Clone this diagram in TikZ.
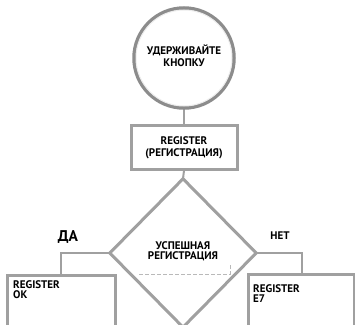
\documentclass[tikz,border=0pt]{standalone}
\usepackage{fontspec}
\setmainfont{PT Sans}
\usetikzlibrary{shapes.geometric}
\definecolor{lineg}{HTML}{A0A0A0}
\definecolor{ringg}{HTML}{8C8C8C}
\tikzset{
  boxst/.style={draw=lineg, line width=3pt, fill=white, rectangle, inner sep=0pt},
  conn/.style={draw=lineg, line width=2pt},
  txt/.style={font=\bfseries\fontsize{11}{10.5}\selectfont, align=center, inner sep=0pt, text=black},
  txtl/.style={font=\bfseries\fontsize{11}{10.5}\selectfont, align=left, inner sep=0pt, anchor=north west, text=black},
}
\begin{document}
\begin{tikzpicture}[x=1pt,y=-1pt]
\useasboundingbox (0,0) rectangle (355,324);
\clip (0,0) rectangle (355,324);
\fill[white] (0,0) rectangle (355,324);
\node[circle, minimum size=100pt, inner sep=0pt] (start) at (184,58) {};
\node[boxst, minimum width=106pt, minimum height=44pt] (reg) at (184,147) {};
\node[diamond, minimum width=146pt, minimum height=148pt, inner sep=0pt] (dec) at (183,253) {};
\node[boxst, minimum width=108pt, minimum height=68pt, anchor=north] (ok) at (61,274) {};
\node[boxst, minimum width=106pt, minimum height=68pt, anchor=north] (e7) at (301.5,273) {};
\draw[conn] (start.south) -- (reg.north);
\draw[conn] (reg.south) -- (dec.north);
\draw[conn] (dec.west) -| (ok.north);
\draw[conn] (dec.east) -| (e7.north);
\draw[draw=ringg, line width=3.5pt, fill=white] (start.center) circle (50pt);
\draw[draw=white!85!gray, line width=1pt] (start.center) circle (48pt);
\node[boxst, minimum width=106pt, minimum height=44pt] at (reg.center) {};
\draw[draw=lineg, line width=3pt, fill=white, line join=miter] (dec.north) -- (dec.east) -- (dec.south) -- (dec.west) -- cycle;
\node[boxst, minimum width=108pt, minimum height=68pt] at (ok.center) {};
\node[boxst, minimum width=106pt, minimum height=68pt] at (e7.center) {};
\draw[gray!55, line width=0.8pt, dash pattern=on 4pt off 2pt] (139,274) -- (230,274) -- (230,264);
\node[txt] (t1) at (184,56) {УДЕРЖИВАЙТЕ\\[1pt]КНОПКУ};
\node[txt] (t2) at (184,148) {REGISTER\\[1pt](РЕГИСТРАЦИЯ)};
\node[txt] (t3) at (183,251.5) {УСПЕШНАЯ\\[0pt]РЕГИСТРАЦИЯ};
\node[txtl] (t4) at (13,280) {REGISTER\\[0pt]OK};
\node[txtl] (t5) at (253,284) {REGISTER\\[0pt]E7};
\node[font=\bfseries\fontsize{15.5}{15}\selectfont, inner sep=0pt] (da) at (68,237) {ДА};
\node[font=\bfseries\fontsize{11}{10.5}\selectfont, inner sep=0pt] (net) at (280,236) {НЕТ};
\end{tikzpicture}
\end{document}
